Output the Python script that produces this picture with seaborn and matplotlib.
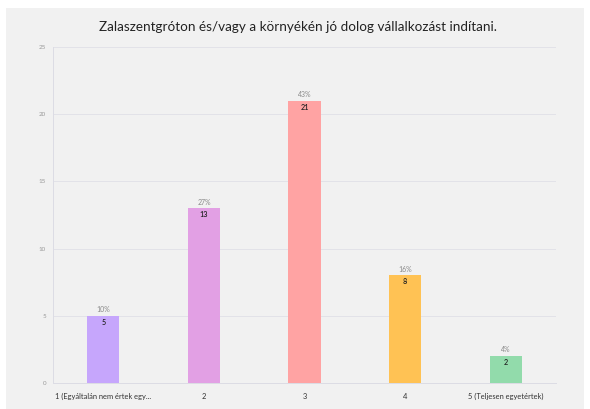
import matplotlib
matplotlib.use("Agg")
import matplotlib.pyplot as plt
import seaborn as sns
import pandas as pd
from matplotlib.patches import Rectangle

categories = ["1 (Egyáltalán nem értek egy...", "2", "3", "4", "5 (Teljesen egyetértek)"]
counts = [5, 13, 21, 8, 2]
percents = ["10%", "27%", "43%", "16%", "4%"]
colors = ["#c6a6fc", "#e2a0e4", "#ffa3a3", "#ffc254", "#92dbab"]
title = "Zalaszentgróton és/vagy a környékén jó dolog vállalkozást indítani."
yticks = [0, 5, 10, 15, 20, 25]

sns.set_theme(style="white")
plt.rcParams['font.family'] = ['Lato', 'DejaVu Sans']

W, H = 590, 409
fig = plt.figure(figsize=(W / 100, H / 100), dpi=100)
fig.patch.set_facecolor("white")
fig.patches.append(Rectangle((6 / W, 0), (584 - 6) / W, (H - 8) / H,
                             transform=fig.transFigure, facecolor="#f1f1f1",
                             edgecolor="none", zorder=-10))

ax = fig.add_axes([53 / W, (H - 383) / H, (556 - 53) / W, (383 - 47) / H])
ax.set_facecolor("none")

df = pd.DataFrame({"cat": categories, "count": counts})
sns.barplot(data=df, x="cat", y="count", hue="cat", palette=colors,
            width=0.32, legend=False, ax=ax, saturation=1, zorder=3,
            linewidth=0, edgecolor="none")

ax.set_xlim(-0.5, 4.5)
ax.set_ylim(0, 25)
ax.set_yticks(yticks)
ax.set_yticklabels([str(t) for t in yticks], fontsize=4.5, color="#9a9a9a")
ax.set_xticks(range(len(categories)))
ax.set_xticklabels(categories, fontsize=5.4, color="#333333")
ax.tick_params(axis="x", length=2, color="#dcdce4", pad=5)
ax.tick_params(axis="y", length=2, color="#dcdce4", pad=3)
ax.set_xlabel("")
ax.set_ylabel("")
ax.grid(axis="y", color="#e2e2e8", linewidth=0.7, zorder=0)
for s in ["top", "right"]:
    ax.spines[s].set_visible(False)
for s in ["left", "bottom"]:
    ax.spines[s].set_color("#dcdce4")
    ax.spines[s].set_linewidth(0.7)

for i, (c, p) in enumerate(zip(counts, percents)):
    ax.annotate(p, (i, c), xytext=(0, 2), textcoords="offset points",
                ha="center", va="bottom", fontsize=5, color="#8a8a8a")
    ax.annotate(str(c), (i, c), xytext=(0, -2), textcoords="offset points",
                ha="center", va="top", fontsize=5.2, color="#222222", fontweight="semibold")

fig.text(298 / W, 1 - 27 / H, title, ha="center", va="center", fontsize=9.7, color="#222222")

fig.savefig("out.png", dpi=100, facecolor="white")
